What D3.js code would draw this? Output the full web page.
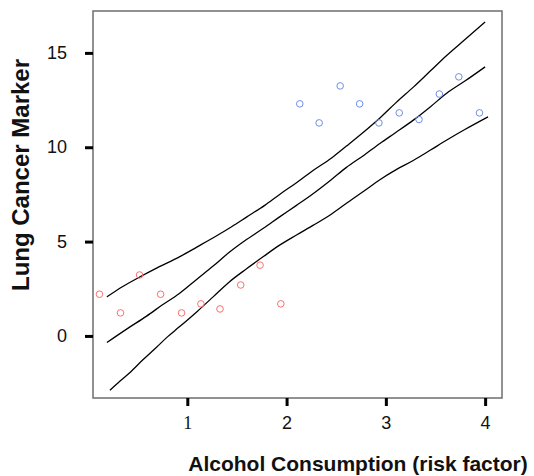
<!DOCTYPE html>
<html>
<head>
<meta charset="utf-8">
<script src="https://cdn.jsdelivr.net/npm/d3@7"></script>
<style>
  html, body { margin: 0; padding: 0; background: #fff; }
  svg { display: block; }
</style>
</head>
<body>
<svg id="chart" width="534" height="476"></svg>
<script>
// ---- data ----
const groupA = { x: [0.115, 0.327, 0.519, 0.731, 0.942, 1.137, 1.329, 1.538, 1.733, 1.942],
                 y: [2.21, 1.22, 3.23, 2.21, 1.22, 1.70, 1.43, 2.70, 3.75, 1.70] };
const groupB = { x: [2.133, 2.328, 2.540, 2.736, 2.930, 3.135, 3.334, 3.539, 3.735, 3.943],
                 y: [12.30, 11.29, 13.25, 12.30, 11.29, 11.82, 11.47, 12.82, 13.73, 11.82] };

const upperX = [0.19, 0.35, 0.52, 0.70, 0.92, 1.10, 1.30, 1.45, 1.60, 1.78, 1.93, 2.10, 2.27, 2.45, 2.60, 2.78, 2.94, 3.10, 3.28, 3.45, 3.61, 3.80, 4.00];
const upperY = [2.07, 2.62, 3.12, 3.62, 4.19, 4.72, 5.32, 5.80, 6.31, 6.92, 7.50, 8.12, 8.78, 9.42, 10.05, 10.82, 11.55, 12.35, 13.20, 14.05, 14.85, 15.72, 16.64];
const middleX = [0.19, 0.40, 0.59, 0.75, 0.92, 1.10, 1.26, 1.42, 1.60, 1.77, 1.93, 2.10, 2.27, 2.45, 2.60, 2.78, 2.94, 3.10, 3.28, 3.45, 3.61, 3.80, 4.00];
const middleY = [-0.35, 0.40, 1.05, 1.65, 2.25, 3.02, 3.70, 4.42, 5.12, 5.72, 6.31, 6.92, 7.55, 8.28, 8.92, 9.58, 10.20, 10.78, 11.45, 12.15, 12.85, 13.52, 14.26];
const lowerX = [0.22, 0.32, 0.42, 0.55, 0.69, 0.80, 0.92, 1.10, 1.26, 1.42, 1.60, 1.77, 1.93, 2.10, 2.27, 2.45, 2.60, 2.78, 2.94, 3.10, 3.28, 3.45, 3.61, 3.80, 4.03];
const lowerY = [-2.88, -2.40, -1.95, -1.28, -0.60, -0.05, 0.48, 1.30, 2.07, 2.85, 3.57, 4.22, 4.81, 5.35, 5.87, 6.45, 7.02, 7.68, 8.28, 8.80, 9.31, 9.85, 10.37, 10.95, 11.61];

const xTicks = [1, 2, 3, 4];
const xTickLabels = ["1", "2", "3", "4"];
const yTicks = [0, 5, 10, 15];
const yTickLabels = ["0", "5", "10", "15"];
const xTitle = "Alcohol Consumption (risk factor)";
const yTitle = "Lung Cancer Marker";

// ---- layout ----
const svg = d3.select("#chart");
const L = 93, R = 502, T = 11, B = 398;
const x = d3.scaleLinear().domain([0.05, 4.17]).range([L, R]);
const y = d3.scaleLinear().domain([-3.29, 17.22]).range([B, T]);

// frame
svg.append("rect").attr("x", L).attr("y", T).attr("width", R - L).attr("height", B - T)
  .attr("fill", "none").attr("stroke", "#6e6e6e").attr("stroke-width", 1.5);

// axes
const xAxis = svg.append("g").attr("transform", `translate(0,${B})`)
  .call(d3.axisBottom(x).tickValues(xTicks).tickFormat((d, i) => xTickLabels[i]).tickSize(8).tickPadding(10));
const yAxis = svg.append("g").attr("transform", `translate(${L},0)`)
  .call(d3.axisLeft(y).tickValues(yTicks).tickFormat((d, i) => yTickLabels[i]).tickSize(8).tickPadding(18));
[xAxis, yAxis].forEach(g => {
  g.select(".domain").remove();
  g.selectAll(".tick line").attr("stroke", "#000").attr("stroke-width", 3);
  g.selectAll(".tick text").attr("fill", "#111").attr("font-family", "'Liberation Sans', Arial, sans-serif").attr("font-size", 18);
});
xAxis.selectAll(".tick text").filter((d, i) => i === 0).attr("font-family", "'Liberation Serif', 'Times New Roman', serif");

// lines
const line = d3.line().x(d => x(d[0])).y(d => y(d[1])).curve(d3.curveMonotoneX);
[[upperX, upperY], [middleX, middleY], [lowerX, lowerY]].forEach(([xs, ys]) => {
  svg.append("path").datum(xs.map((v, i) => [v, ys[i]]))
    .attr("d", line).attr("fill", "none").attr("stroke", "#000").attr("stroke-width", 1.3);
});

// points
[[groupA, "#ff6e6e"], [groupB, "#6f90e2"]].forEach(([g, c]) => {
  svg.append("g").selectAll("circle").data(g.x.map((v, i) => [v, g.y[i]])).join("circle")
    .attr("cx", d => x(d[0])).attr("cy", d => y(d[1])).attr("r", 3.3)
    .attr("fill", "none").attr("stroke", c).attr("stroke-width", 1);
});

// titles
svg.append("text").attr("x", 358).attr("y", 471).attr("text-anchor", "middle")
  .attr("font-family", "'Liberation Sans', Arial, sans-serif").attr("font-weight", "bold")
  .attr("font-size", 21).attr("fill", "#111").text(xTitle);
svg.append("text").attr("transform", "translate(29,175) rotate(-90)").attr("text-anchor", "middle")
  .attr("font-family", "'Liberation Sans', Arial, sans-serif").attr("font-weight", "bold")
  .attr("font-size", 24).attr("fill", "#111").text(yTitle);
</script>
</body>
</html>
